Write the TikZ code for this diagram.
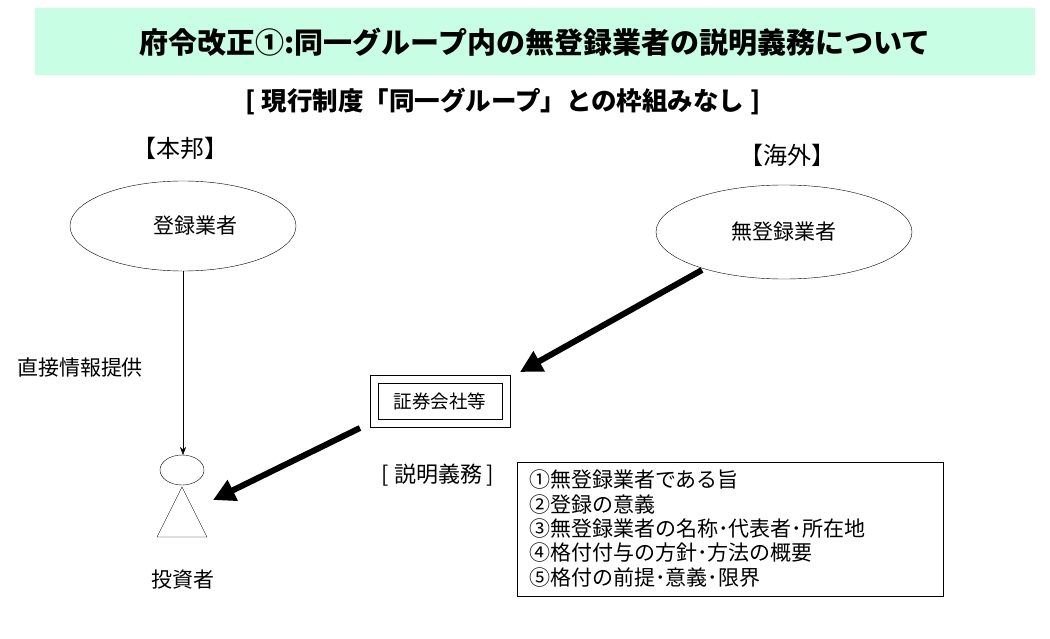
\documentclass[tikz,border=0pt]{standalone}
\usepackage{fontspec}
\setmainfont{Noto Sans CJK JP}
\usetikzlibrary{arrows.meta}
\definecolor{headgreen}{RGB}{200,255,228}

\begin{document}
\begin{tikzpicture}[x=1pt,y=1pt,yscale=-1,xscale=1]
\useasboundingbox (0,0) rectangle (1050,639);

%Header
\draw [fill=headgreen,draw=none] (35,8) rectangle (1035,75);
\node (title) at (535,42) {\fontsize{29}{30}\selectfont\bfseries 府令改正①:同一グループ内の無登録業者の説明義務について};
\node (sub) at (503,102) {\fontsize{25.5}{27}\selectfont\bfseries [ 現行制度「同一グループ」との枠組みなし ]};

% Text Node
\node (home) at (180,148) {\fontsize{24}{26}\selectfont 【本邦】};
\node (abroad) at (787,155) {\fontsize{24}{26}\selectfont 【海外】};

%Ellipses
\draw (183,226) ellipse (113 and 45);
\node (reg) at (195,226) {\fontsize{21}{24}\selectfont 登録業者};
\draw (784,232) ellipse (128 and 47);
\node (unreg) at (784,232) {\fontsize{21}{24}\selectfont 無登録業者};

%Straight Lines
\coordinate (regb) at (183,271);
\coordinate (head) at (183,455);
\draw [-{Stealth[length=8pt,width=6pt]}] (regb) -- (head);
\node (direct) at (80,368) {\fontsize{21}{24}\selectfont 直接情報提供};

%Double box
\draw (370,375) rectangle (510,427);
\draw (378,383) rectangle (502,419);
\node (firm) at (440,401) {\fontsize{18.5}{20}\selectfont 証券会社等};

%Thick arrows
\coordinate (a1) at (702,270);
\coordinate (a2) at (520,372);
\draw [line width=6pt,-{Triangle[length=22pt,width=22pt]}] (a1) -- (a2);
\coordinate (b1) at (360,428);
\coordinate (b2) at (213,500);
\draw [line width=6pt,-{Triangle[length=22pt,width=22pt]}] (b1) -- (b2);

%Person
\draw (182,470) ellipse (22 and 15);
\draw (182,487) -- (157,537) -- (207,537) -- cycle;
\node (investor) at (183,580) {\fontsize{21}{24}\selectfont 投資者};

% Duty list
\node (duty) at (438,475) {\fontsize{22}{24}\selectfont [ 説明義務 ]};
\draw (517,462) rectangle (943,596);
\node (items) [anchor=north west,inner sep=0pt,align=left,
  font={\fontsize{21}{24.3}\selectfont}] at (529,470) {%
①無登録業者である旨\\
②登録の意義\\
③無登録業者の名称･代表者･所在地\\
④格付付与の方針･方法の概要\\
⑤格付の前提･意義･限界};

\end{tikzpicture}
\end{document}
